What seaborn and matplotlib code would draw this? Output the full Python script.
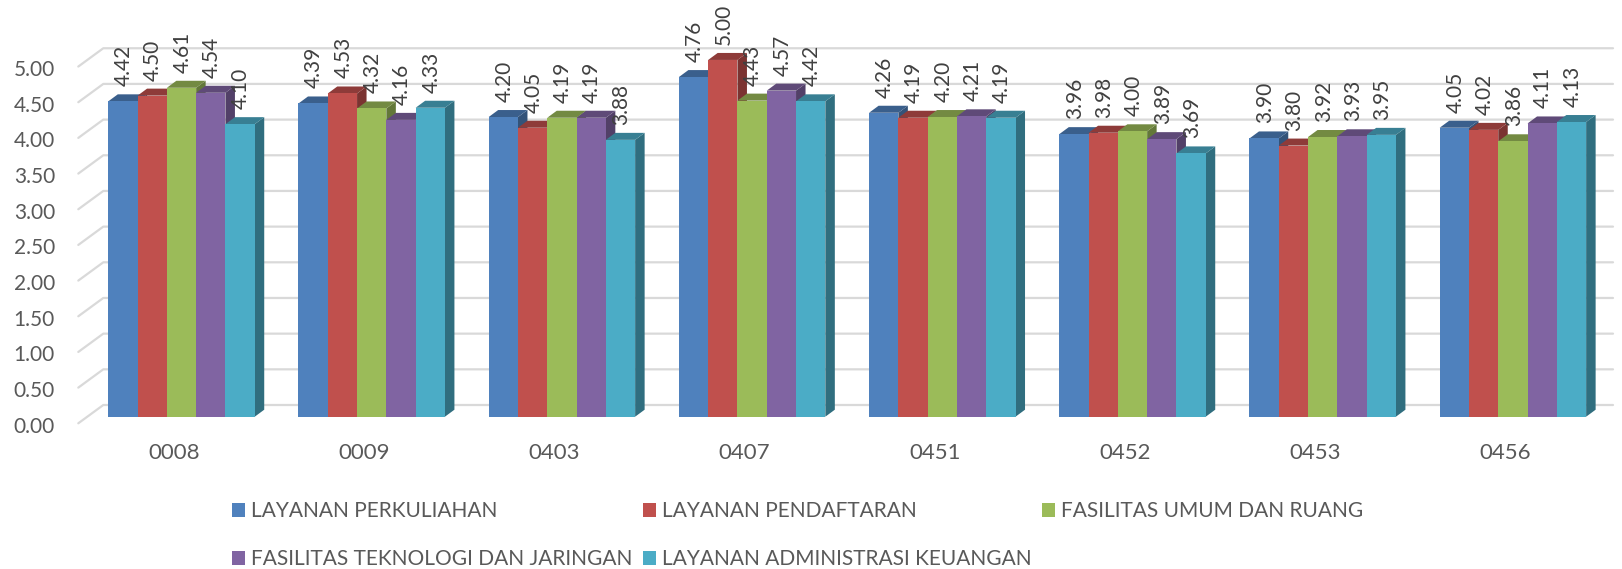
import numpy as np
import pandas as pd
import matplotlib
matplotlib.use("Agg")
import matplotlib.pyplot as plt
import matplotlib.transforms as mtransforms
from matplotlib.patches import Polygon, Patch
from matplotlib.lines import Line2D
import matplotlib.colors as mcolors
import seaborn as sns

# ---------------- data ----------------
categories = ["0008", "0009", "0403", "0407", "0451", "0452", "0453", "0456"]
series = ["LAYANAN PERKULIAHAN", "LAYANAN PENDAFTARAN", "FASILITAS UMUM DAN RUANG",
          "FASILITAS TEKNOLOGI DAN JARINGAN", "LAYANAN ADMINISTRASI KEUANGAN"]
perkuliahan = [4.42, 4.39, 4.20, 4.76, 4.26, 3.96, 3.90, 4.05]
pendaftaran = [4.50, 4.53, 4.05, 5.00, 4.19, 3.98, 3.80, 4.02]
fasilitas_umum = [4.61, 4.32, 4.19, 4.43, 4.20, 4.00, 3.92, 3.86]
fasilitas_tek = [4.54, 4.16, 4.19, 4.57, 4.21, 3.89, 3.93, 4.11]
administrasi = [4.10, 4.33, 3.88, 4.42, 4.19, 3.69, 3.95, 4.13]
y_ticks = [0.0, 0.5, 1.0, 1.5, 2.0, 2.5, 3.0, 3.5, 4.0, 4.5, 5.0]
colors = ["#4F81BD", "#C0504D", "#9BBB59", "#8064A2", "#4BACC6"]

values = [perkuliahan, pendaftaran, fasilitas_umum, fasilitas_tek, administrasi]
df = pd.DataFrame({
    "cat": [c for s in series for c in categories],
    "series": [s for s in series for _ in categories],
    "value": [v for vals in values for v in vals],
})

# ---------------- figure ----------------
sns.set_theme(style="white")
plt.rcParams["font.family"] = ["Lato", "DejaVu Sans"]
W, H, DPI = 1622, 569, 100
fig = plt.figure(figsize=(W / DPI, H / DPI), dpi=DPI, facecolor="white")

# axes geometry (pixels, top origin)
L_px, R_px = 60, 1622
base_px = 416.7          # bar-plane y of value 0
ppu = 71.35              # pixels per unit
ytop = 5.75
top_px = base_px - ytop * ppu
ax = fig.add_axes([L_px / W, (H - base_px) / H, (R_px - L_px) / W, (base_px - top_px) / H])
ax.set_facecolor("none")

sns.barplot(data=df, x="cat", y="value", hue="series", order=categories,
            hue_order=series, palette=colors, width=0.77, saturation=1,
            linewidth=0, legend=False, ax=ax, errorbar=None)

cat0_px, step_px = 181.5, 190.2
ax.set_xlim(-(cat0_px - L_px) / step_px, (R_px - cat0_px) / step_px)
ax.set_ylim(0, ytop)
for s in ax.spines.values():
    s.set_visible(False)
ax.set_xlabel("")
ax.set_ylabel("")
ax.grid(False)

# ticks
ax.set_yticks(y_ticks)
ax.set_yticklabels([f"{t:.2f}" for t in y_ticks])
ax.tick_params(axis="y", length=0, pad=5 * 72 / DPI, labelsize=15, labelcolor="#595959")
ax.tick_params(axis="x", length=0, pad=26 * 72 / DPI, labelsize=16, labelcolor="#595959")
ax.set_xticks(range(len(categories)))
ax.set_xticklabels(categories)
for lab in ax.get_yticklabels():
    lab.set_transform(lab.get_transform() + mtransforms.ScaledTranslation(0, -8 / DPI, fig.dpi_scale_trans))
for lab in ax.get_xticklabels():
    lab.set_transform(lab.get_transform() + mtransforms.ScaledTranslation(-7.5 / DPI, 0, fig.dpi_scale_trans))

ident = mtransforms.IdentityTransform()

# 3D back-wall gridlines
for t in y_ticks:
    yd = ax.transData.transform((0, t))[1]
    front = (78.3, yd - 6.6)
    back = (103.3, yd + 11.7)
    right = (1613, yd + 11.7)
    ln = Line2D([front[0], back[0], right[0]], [front[1], back[1], right[1]],
                transform=ident, color="#D9D9D9", lw=1.6, zorder=0.5, clip_on=False)
    ax.add_artist(ln)

# 3D faces for bars
def darker(c, f):
    r, g, b = mcolors.to_rgb(c)
    return (r * f, g * f, b * f)

dx, dy = 9.5, 7.0
rects = []
for cont in ax.containers:
    for r in cont:
        rects.append(r)
rects.sort(key=lambda r: r.get_x())
for k, r in enumerate(rects):
    x0, y0 = r.get_x(), r.get_y()
    x1, y1 = x0 + r.get_width(), y0 + r.get_height()
    (X0, Y0) = ax.transData.transform((x0, y0))
    (X1, Y1) = ax.transData.transform((x1, y1))
    fc = r.get_facecolor()
    z = 2 + k * 0.01
    side = Polygon([(X1, Y0), (X1, Y1), (X1 + dx, Y1 + dy), (X1 + dx, Y0 + dy)],
                   closed=True, transform=ident, facecolor=darker(fc, 0.64),
                   edgecolor="none", zorder=z, clip_on=False)
    topf = Polygon([(X0, Y1), (X1, Y1), (X1 + dx, Y1 + dy), (X0 + dx, Y1 + dy)],
                   closed=True, transform=ident, facecolor=darker(fc, 0.74),
                   edgecolor="none", zorder=z, clip_on=False)
    ax.add_artist(side)
    ax.add_artist(topf)
    r.set_zorder(z + 0.005)
    r.set_clip_on(False)

# data labels
for cont in ax.containers:
    for r in cont:
        v = r.get_height()
        ax.annotate(f"{v:.2f}", (r.get_x() + r.get_width() / 2, v),
                    xytext=(1, 15), textcoords="offset pixels",
                    rotation=90, ha="center", va="bottom",
                    fontsize=15, color="#404040", annotation_clip=False, zorder=10)

# legend
handles = [Patch(facecolor=c, edgecolor="none") for c in colors]
order = [0, 3, 1, 4, 2]
leg = fig.legend([handles[i] for i in order], [series[i] for i in order],
                 loc="upper left", bbox_to_anchor=(232 / W, 1 - 501 / H),
                 ncol=3, frameon=False, fontsize=15, handlelength=0.63,
                 handleheight=0.67, handletextpad=0.29, columnspacing=0.5,
                 labelspacing=1.35, borderaxespad=0, borderpad=0,
                 labelcolor="#595959")

fig.savefig("out.png", dpi=DPI, facecolor="white")
